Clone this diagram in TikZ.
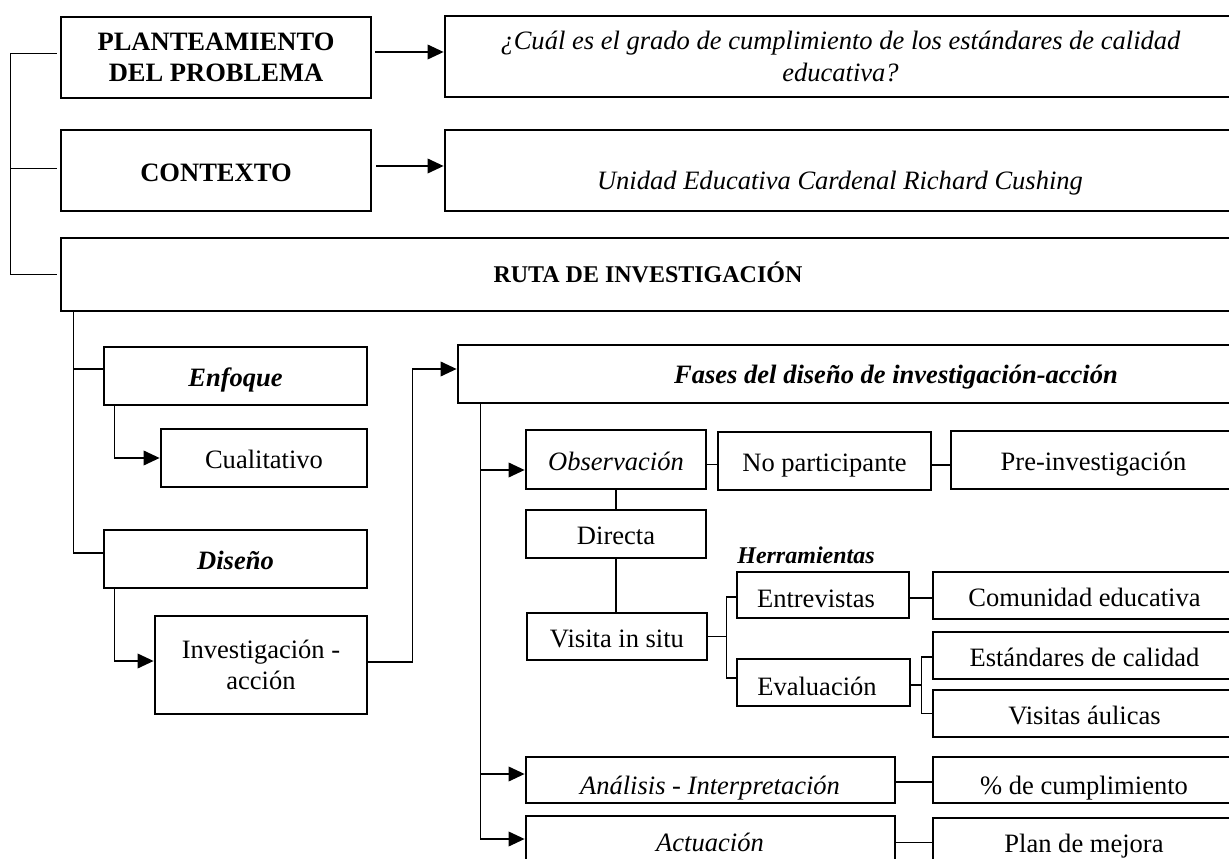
\documentclass[tikz,border=0pt]{standalone}
\usepackage{fontspec}
\setmainfont{Liberation Serif}
\usetikzlibrary{arrows.meta,calc}
\newcommand\myfs{\fontsize{19.9pt}{23.3pt}\selectfont}
\newcommand\myfsS{\fontsize{18pt}{21pt}\selectfont}
\begin{document}
\begin{tikzpicture}[x=0.75pt,y=-0.75pt,
  rm/.style={font=\myfs},
  bf/.style={font=\myfs\bfseries},
  it/.style={font=\myfs\itshape},
  bi/.style={font=\myfs\bfseries\itshape},
  box/.style={draw, line width=2.1pt, inner sep=0pt, align=center, font=\myfs},
  bx/.style args={#1/#2/#3/#4}{minimum width={(#3-#1)*0.75pt}, minimum height={(#4-#2)*0.75pt}, at={({(#1+#3)/2},{(#2+#4)/2})}},
  sl/.style={text height=16.2pt, text depth=0pt},
  conn/.style={line width=1.1pt},
  arr/.style={conn, -{Triangle[length=12pt,width=11pt]}},
  txt/.style={anchor=base, inner sep=0pt}]
\useasboundingbox (0,0) rectangle (1229,859);
\clip (0,0) rectangle (1229,859);

% ---- boxes ----
\node[box, bf, bx=61/17/371/98] (plan) {PLANTEAMIENTO\\DEL PROBLEMA};
\node[box, it, bx=445/16/1236/97] (preg) {¿Cuál es el grado de cumplimiento de los estándares de calidad\\educativa?};
\node[box, bf, sl, bx=61/130/371/211] (ctx) {CONTEXTO};
\node[box, bx=445/130/1236/211] (uni) {};
\node[box, bx=61/238/1236/311] (ruta) {};
\node[box, bi, sl, bx=104/347/367/405] (enf) {Enfoque};
\node[box, rm, sl, bx=161/429/367/487] (cual) {Cualitativo};
\node[box, bi, sl, bx=104/530/367/588] (dis) {Diseño};
\node[box, rm, bx=155/616/367/714] (inv) {Investigación -\\acción};
\node[box, bx=458/345/1236/403] (fases) {};
\node[box, it, sl, bx=526/430/706/489] (obs) {Observación};
\node[box, rm, sl, bx=718/432/931/490] (nop) {No participante};
\node[box, rm, sl, bx=951/431/1236/489] (pre) {Pre-investigación};
\node[box, rm, sl, bx=526/510/706/558] (dir) {Directa};
\node[box, rm, sl, bx=527/613/707/660] (vis) {Visita in situ};
\node[box, bx=737/572/909/618] (ent) {};
\node[box, bx=737/659/910/706] (eva) {};
\node[box, rm, sl, bx=933/572/1236/619] (com) {Comunidad educativa};
\node[box, rm, sl, bx=933/632/1236/679] (est) {Estándares de calidad};
\node[box, rm, sl, bx=933/690/1236/737] (vau) {Visitas áulicas};
\node[box, bx=526/757/895/803] (ana) {};
\node[box, bx=933/757/1236/803] (pct) {};
\node[box, bx=526/816/895/869] (act) {};
\node[box, bx=933/818/1236/867] (plm) {};

% ---- texts placed on their baselines ----
\node[txt, it] (t-uni) at (840,190) {Unidad Educativa Cardenal Richard Cushing};
\node[txt, font=\myfsS\bfseries] (t-ruta) at (648,283) {RUTA DE INVESTIGACIÓN};
\node[txt, bi] (t-fases) at (896,384) {Fases del diseño de investigación-acción};
\node[txt, font=\myfsS\bfseries\itshape] (t-herr) at (806,563) {Herramientas};
\node[txt, rm] (t-ent) at (816,607) {Entrevistas};
\node[txt, rm] (t-eva) at (817,695) {Evaluación};
\node[txt, rm] (t-ana) at (710,794) {\textit{Análisis} - \textit{Interpretación}};
\node[txt, rm] (t-pct) at (1084,794) {\% de cumplimiento};
\node[txt, it] (t-act) at (710,851) {Actuación};
\node[txt, rm] (t-plm) at (1084,852) {Plan de mejora};

% ---- connectors ----
\draw[conn] ($(plan.west)+(-3,-4)$) -- ++(-46,0) |- ($(ruta.west)+(-3,0)$);
\draw[conn] ($(ctx.west)+(-3,-2)$) -- ++(-46,0);
\draw[arr] ($(plan.east)+(3,-5.5)$) -- ($(plan.east -| preg.west)+(0,-5.5)$);
\draw[arr] ($(ctx.east)+(4,-4.5)$) -- ($(ctx.east -| uni.west)+(0,-4.5)$);

\coordinate (rv) at ($(ruta.south west)+(14,0)$);
\draw[conn] (rv) |- ($(enf.west)+(0,-7)$);
\draw[conn] (rv) |- ($(dis.west)+(0,-6)$);
\draw[arr] ($(enf.south west)+(12,0)$) |- (cual.west);
\draw[arr] ($(dis.south west)+(12,0)$) |- ($(inv.west)+(0,-4)$);
\draw[arr] ($(inv.east)+(0,-3)$) -- ++(44,0) |- ($(fases.west)+(0,-5)$);

\coordinate (fv) at ($(fases.south west)+(24,0)$);
\draw[arr] (fv) |- ($(obs.west)+(0,10.5)$);
\draw[arr] (fv) |- ($(ana.west)+(0,-6)$);
\draw[arr] (fv) |- ($(act.west)+(0,-3.5)$);

\draw[conn] ($(obs.east)+(0,5)$) -- ($(obs.east -| nop.west)+(0,5)$);
\draw[conn] ($(nop.east)+(0,4)$) -- ($(nop.east -| pre.west)+(0,4)$);
\draw[conn] (obs.south) -- (obs.south |- dir.north);
\draw[conn] (dir.south) -- (dir.south |- vis.north);
\draw[conn] (vis.east) -- ++(18.5,0);
\draw[conn] ($(ent.west)+(0,2)$) -- ++(-9,0) |- ($(eva.west)+(0,-4.5)$);
\draw[conn] ($(eva.east)+(0,2.5)$) -- ++(10.5,0);
\draw[conn] ($(est.west)+(0,1.5)$) -- ++(-10,0) |- (vau.west);
\draw[conn] ($(ent.east)+(0,3)$) -- ($(ent.east -| com.west)+(0,3)$);
\draw[conn] ($(ana.east)+(0,2)$) -- ($(ana.east -| pct.west)+(0,2)$);
\draw[conn] (act.east) -- (act.east -| plm.west);
\end{tikzpicture}
\end{document}
